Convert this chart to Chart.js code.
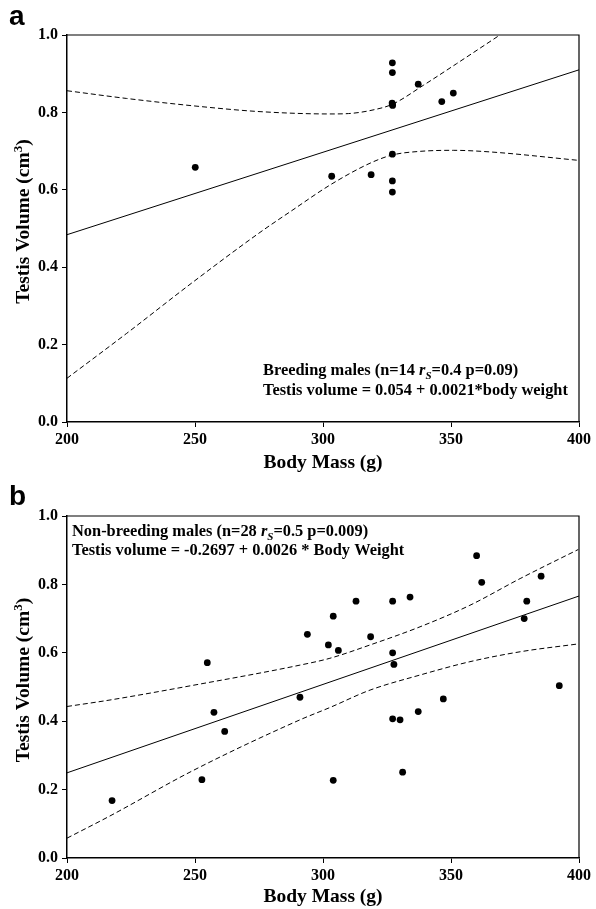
<!DOCTYPE html>
<html><head><meta charset="utf-8">
<script src="https://cdn.jsdelivr.net/npm/chart.js@4.4.1/dist/chart.umd.min.js"></script>
<style>
html,body{margin:0;padding:0;background:#fff;}
#wrap{position:relative;width:596px;height:909px;}
.panel{position:absolute;left:0;width:596px;}
#pa{top:0;height:475px;}
#pb{top:475px;height:434px;}
</style></head><body>
<div id="wrap">
<div class="panel" id="pa"><canvas id="chartA" width="596" height="475"></canvas></div>
<div class="panel" id="pb"><canvas id="chartB" width="596" height="434"></canvas></div>
</div>
<script>
// tick values
const xTicks = [200, 250, 300, 350, 400];
const yTicks = [0, 0.2, 0.4, 0.6, 0.8, 1.0];

// panel a: breeding males
const massA = [250.1, 303.4, 318.8, 327.1, 327.1, 327.1, 327.0, 327.2, 327.1, 327.1, 327.1, 337.2, 346.4, 350.9];
const volA  = [0.658, 0.635, 0.639, 0.928, 0.903, 0.821, 0.824, 0.818, 0.692, 0.623, 0.594, 0.873, 0.828, 0.850];
const fitXA = [200, 400];
const fitYA = [0.484, 0.910];
const upXA = [200, 223.3, 249.3, 275.4, 302.7, 310, 320, 327.1, 339.2, 352.2, 369.1];
const upYA = [0.856, 0.836, 0.817, 0.802, 0.796, 0.797, 0.807, 0.821, 0.870, 0.926, 1.0];
const loXA = [200, 223.3, 249.3, 275.4, 287.1, 303.4, 318.8, 327.1, 337.2, 350.9, 365, 400];
const loYA = [0.113, 0.229, 0.362, 0.490, 0.543, 0.615, 0.670, 0.690, 0.699, 0.702, 0.698, 0.676];

// panel b: non-breeding males
const massB = [217.6, 252.7, 254.8, 257.4, 261.6, 291.0, 293.9, 302.1, 304.0, 304.0, 306.0, 312.9, 318.6, 327.2,
               327.2, 327.7, 327.2, 330.1, 331.1, 334.0, 337.2, 347.0, 360.0, 362.0, 378.6, 379.6, 385.2, 392.3];
const volB  = [0.168, 0.229, 0.571, 0.426, 0.370, 0.470, 0.654, 0.623, 0.707, 0.227, 0.607, 0.751, 0.647, 0.751,
               0.600, 0.566, 0.407, 0.404, 0.251, 0.763, 0.428, 0.465, 0.884, 0.806, 0.700, 0.751, 0.824, 0.504];
const fitXB = [200, 400];
const fitYB = [0.249, 0.766];
const upXB = [200, 216.8, 249.3, 291.0, 302.7, 318.4, 337.9, 357.4, 377.0, 399.7];
const upYB = [0.443, 0.462, 0.505, 0.564, 0.584, 0.623, 0.676, 0.739, 0.817, 0.902];
const loXB = [200, 216.8, 249.3, 291.0, 302.7, 318.4, 337.9, 357.4, 377.0, 399.7];
const loYB = [0.058, 0.123, 0.256, 0.404, 0.440, 0.491, 0.535, 0.574, 0.603, 0.626];

const SERIF = '"Liberation Serif", "Times New Roman", serif';
const pts = (xs, ys) => xs.map((x, i) => ({x, y: ys[i]}));

const notesA = [
  [["Breeding males (n=14 ", ""], ["r", "i"], ["S", "sub"], ["=0.4 p=0.09)", ""]],
  [["Testis volume = 0.054 + 0.0021*body weight", ""]]
];
const notesB = [
  [["Non-breeding males (n=28 ", ""], ["r", "i"], ["S", "sub"], ["=0.5 p=0.009)", ""]],
  [["Testis volume = -0.2697 + 0.0026 * Body Weight", ""]]
];
const yTitle = [["Testis Volume (cm", ""], ["3", "sup"], [")", ""]];

function segFont(st, size){
  if(st === 'i') return `italic bold ${size}px ${SERIF}`;
  if(st === 'sub') return `italic bold ${Math.round(size * 0.68)}px ${SERIF}`;
  if(st === 'sup') return `bold ${Math.round(size * 0.68)}px ${SERIF}`;
  return `bold ${size}px ${SERIF}`;
}

function drawSegs(ctx, segs, x, y, size){
  segs.forEach(([t, st]) => {
    ctx.font = segFont(st, size);
    const dy = st === 'sub' ? 4 : (st === 'sup' ? -7 : 0);
    ctx.fillText(t, x, y + dy);
    x += ctx.measureText(t).width;
  });
}

function segsWidth(ctx, segs, size){
  let w = 0;
  segs.forEach(([t, st]) => { ctx.font = segFont(st, size); w += ctx.measureText(t).width; });
  return w;
}

const frameAndNotes = {
  id: 'frameAndNotes',
  afterDraw(chart, args, opts){
    const {ctx, chartArea: a} = chart;
    ctx.save();
    ctx.strokeStyle = '#000';
    ctx.lineWidth = 1.2;
    ctx.beginPath();
    ctx.moveTo(a.left, a.top);
    ctx.lineTo(a.right, a.top);
    ctx.lineTo(a.right, a.bottom);
    ctx.stroke();

    ctx.fillStyle = '#000';
    ctx.textBaseline = 'alphabetic';
    ctx.textAlign = 'left';
    ctx.font = 'bold 28px "Liberation Sans", Arial, sans-serif';
    ctx.fillText(opts.letter, 9, opts.letterY);

    opts.notes.forEach((line, i) => drawSegs(ctx, line, opts.noteX, opts.noteY[i], 16.4));

    // rotated y title with a real superscript
    const w = segsWidth(ctx, yTitle, 19.5);
    const mid = (a.top + a.bottom) / 2 - 7;
    ctx.translate(28.5, mid + w / 2);
    ctx.rotate(-Math.PI / 2);
    drawSegs(ctx, yTitle, 0, 0, 19.5);
    ctx.restore();
  }
};

function makeScales(xFitH){
  return {
    x: {
      type: 'linear', min: 200, max: 400,
      afterBuildTicks: s => { s.ticks = xTicks.map(v => ({value: v})); },
      afterFit: s => { s.height = xFitH; },
      grid: {display: true, drawOnChartArea: false, drawTicks: true, tickLength: 5, color: '#000'},
      border: {display: true, color: '#000', width: 1.5},
      ticks: {color: '#000', padding: 3, maxRotation: 0, font: {family: SERIF, size: 16, weight: 'bold'}, callback: v => String(v)},
      title: {display: true, text: 'Body Mass (g)', color: '#000', font: {family: SERIF, size: 19.5, weight: 'bold'}, padding: {top: 0, bottom: 0}}
    },
    y: {
      type: 'linear', min: 0, max: 1,
      afterBuildTicks: s => { s.ticks = yTicks.map(v => ({value: v})); },
      afterFit: s => { s.width = 67; },
      grid: {display: true, drawOnChartArea: false, drawTicks: true, tickLength: 5, color: '#000'},
      border: {display: true, color: '#000', width: 1.5},
      ticks: {color: '#000', padding: 4, font: {family: SERIF, size: 16, weight: 'bold'}, callback: v => v.toFixed(1)},
      title: {display: false}
    }
  };
}

function makeChart(id, d, padTop, xFitH, plug){
  return new Chart(document.getElementById(id), {
    type: 'scatter',
    data: {
      datasets: [
        {data: pts(d.mx, d.my), pointRadius: 3.4, pointHoverRadius: 3.4, backgroundColor: '#000', borderWidth: 0, order: 0},
        {data: pts(d.fx, d.fy), showLine: true, borderColor: '#000', borderWidth: 1, pointRadius: 0, fill: false, order: 1},
        {data: pts(d.ux, d.uy), showLine: true, borderColor: '#000', borderWidth: 1, borderDash: [5, 3], pointRadius: 0, fill: false, cubicInterpolationMode: 'monotone', order: 2},
        {data: pts(d.lx, d.ly), showLine: true, borderColor: '#000', borderWidth: 1, borderDash: [5, 3], pointRadius: 0, fill: false, cubicInterpolationMode: 'monotone', order: 3}
      ]
    },
    options: {
      responsive: false,
      animation: false,
      layout: {padding: {top: padTop, right: 17, left: 0, bottom: 0}},
      scales: makeScales(xFitH),
      plugins: {legend: {display: false}, tooltip: {enabled: false}, frameAndNotes: plug}
    },
    plugins: [frameAndNotes]
  });
}

makeChart('chartA', {mx: massA, my: volA, fx: fitXA, fy: fitYA, ux: upXA, uy: upYA, lx: loXA, ly: loYA},
  35, 53, {letter: 'a', letterY: 25, notes: notesA, noteX: 263, noteY: [375, 395]});
makeChart('chartB', {mx: massB, my: volB, fx: fitXB, fy: fitYB, ux: upXB, uy: upYB, lx: loXB, ly: loYB},
  41, 51, {letter: 'b', letterY: 30, notes: notesB, noteX: 72, noteY: [61, 80]});
</script>
</body></html>
